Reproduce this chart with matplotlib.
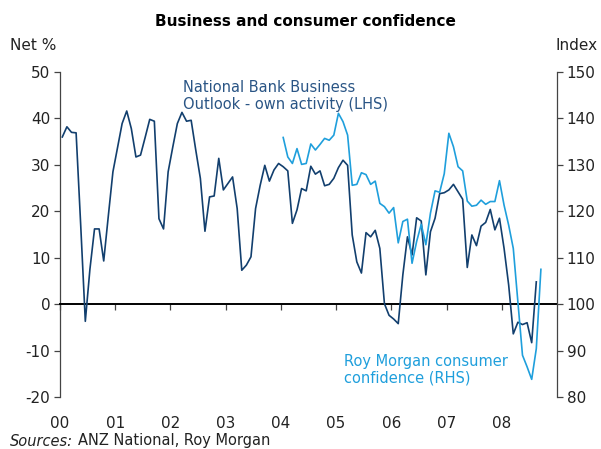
import numpy as np
import pandas as pd
import matplotlib
matplotlib.use("Agg")
import matplotlib.pyplot as plt

plt.rcParams['font.family'] = ['DejaVu Sans']
plt.rcParams['axes.unicode_minus'] = False

# ---- data -------------------------------------------------------------
# National Bank Business Outlook, own activity (net %), monthly from Jan 2000
business_start = "2000-01"
business_outlook = [
    36.0, 38.2, 37.0, 36.9, 17.0, -3.7, 7.5, 16.2, 16.2, 9.3, 19.0, 28.5,   # 2000
    33.7, 38.9, 41.6, 37.8, 31.7, 32.1, 35.9, 39.8, 39.4, 18.4, 16.2, 28.5,  # 2001
    33.8, 38.9, 41.3, 39.4, 39.6, 33.2, 27.1, 15.7, 23.1, 23.3, 31.4, 24.6,  # 2002
    26.0, 27.4, 20.6, 7.3, 8.4, 10.2, 20.6, 25.6, 29.9, 26.5, 28.9, 30.3,    # 2003
    29.6, 28.7, 17.4, 20.3, 24.9, 24.4, 29.7, 28.0, 28.7, 25.5, 25.8, 27.1,  # 2004
    29.4, 31.0, 29.9, 14.9, 9.1, 6.7, 15.4, 14.5, 15.9, 12.0, 0.1, -2.4,     # 2005
    -3.2, -4.2, 6.3, 14.5, 10.6, 18.6, 17.9, 6.3, 15.6, 18.5, 23.8, 24.0,    # 2006
    24.6, 25.8, 24.2, 22.6, 7.9, 14.9, 12.6, 16.8, 17.6, 20.4, 16.0, 18.5,   # 2007
    12.0, 4.1, -6.4, -3.9, -4.4, -4.0, -8.3, 4.8,                            # 2008
]

# Roy Morgan consumer confidence (index), monthly from Jan 2004
consumer_start = "2004-01"
consumer_confidence = [
    135.9, 131.7, 130.3, 133.5, 130.1, 130.3, 134.5, 133.2, 134.4, 135.7, 135.3, 136.4,  # 2004
    141.1, 139.3, 136.4, 125.6, 125.8, 128.3, 127.9, 125.8, 126.5, 121.7, 121.0, 119.6,  # 2005
    120.8, 113.2, 117.8, 118.3, 108.8, 113.5, 117.2, 112.8, 119.6, 124.4, 124.1, 128.1,  # 2006
    136.8, 133.9, 129.6, 128.7, 122.2, 121.1, 121.3, 122.4, 121.5, 122.1, 122.1, 126.6,  # 2007
    121.3, 117.0, 112.0, 100.5, 89.0, 86.5, 83.8, 90.4, 107.5,                           # 2008
]

year_ticks = list(range(2000, 2009))
year_labels = ["00", "01", "02", "03", "04", "05", "06", "07", "08"]


def mid_month_years(start, n):
    """Decimal-year positions (middle of each month) for n monthly values."""
    p = pd.period_range(start, periods=n, freq="M")
    return p.year + (p.month - 0.5) / 12.0


x_bus = mid_month_years(business_start, len(business_outlook))
x_con = mid_month_years(consumer_start, len(consumer_confidence))

# ---- styling ------------------------------------------------------------
navy = "#123f6e"
navy_text = "#2a5585"
sky = "#1f9fdc"
ink = "#222222"

fig = plt.figure(figsize=(6.01, 4.49), dpi=100)
ax = fig.add_axes([60 / 601, 1 - 397 / 449, (557 - 60) / 601, (397 - 72) / 449])
ax2 = ax.twinx()

ax.set_xlim(2000, 2009)
ax.set_ylim(-20, 50)
ax2.set_ylim(80, 150)

ax2.plot(x_con, consumer_confidence, color=sky, lw=1.2, zorder=3)
ax.plot(x_bus, business_outlook, color=navy, lw=1.2, zorder=3)

# spines: left/right axes, zero line acting as the time axis
for s in ("top", "right"):
    ax.spines[s].set_visible(False)
for s in ("top", "left", "bottom"):
    ax2.spines[s].set_visible(False)
ax.spines["bottom"].set_position(("data", 0))
ax.spines["bottom"].set_linewidth(1.4)
ax.spines["bottom"].set_color("black")
ax.spines["left"].set_color("#444444")
ax2.spines["right"].set_color("#444444")
ax.spines["left"].set_linewidth(0.9)
ax2.spines["right"].set_linewidth(0.9)

ax.set_yticks(range(-20, 51, 10))
ax2.set_yticks(range(80, 151, 10))
ax.tick_params(axis="y", direction="out", length=4, width=0.9, color="#444444",
               labelsize=11, labelcolor=ink, pad=3)
ax2.tick_params(axis="y", direction="out", length=4, width=0.9, color="#444444",
                labelsize=11, labelcolor=ink, pad=3)

ax.set_xticks(year_ticks)
ax.tick_params(axis="x", direction="out", length=4, width=0.9, color="#444444",
               labelbottom=False)

# year labels along the bottom edge of the plot area
sec = ax.secondary_xaxis(0)
sec.set_xticks(year_ticks)
sec.set_xticklabels(year_labels)
sec.spines["bottom"].set_visible(False)
sec.tick_params(axis="x", length=0, pad=14, labelsize=11, labelcolor=ink)

# titles and unit labels
fig.text(0.509, 1 - 22 / 449, "Business and consumer confidence",
         ha="center", va="center", fontsize=11, fontweight="bold", color="black")
fig.text(10 / 601, 1 - 46 / 449, "Net %", ha="left", va="center", fontsize=11, color=ink)
fig.text(598 / 601, 1 - 46 / 449, "Index", ha="right", va="center", fontsize=11, color=ink)

# series annotations
ax.text(2002.23, 48.3, "National Bank Business\nOutlook - own activity (LHS)",
        ha="left", va="top", fontsize=10.5, color=navy_text, linespacing=1.15)
ax.text(2005.15, -10.7, "Roy Morgan consumer\nconfidence (RHS)",
        ha="left", va="top", fontsize=10.5, color=sky, linespacing=1.15)

# source note
fig.text(10 / 601, 1 - 441 / 449, "Sources:", ha="left", va="center",
         fontsize=10.5, style="italic", color=ink)
fig.text(78 / 601, 1 - 441 / 449, "ANZ National, Roy Morgan", ha="left", va="center",
         fontsize=10.5, color=ink)

fig.savefig("out.png", dpi=100)
